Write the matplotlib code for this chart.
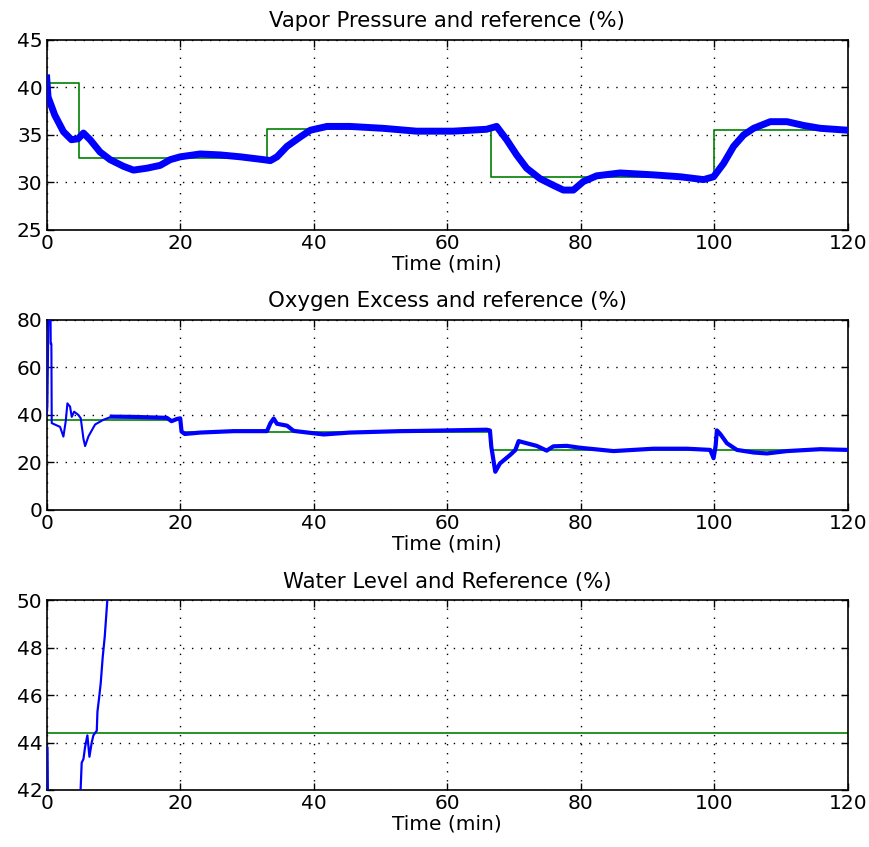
import matplotlib
matplotlib.use("Agg")
import matplotlib.pyplot as plt
import numpy as np

plt.rcParams['font.family'] = ['DejaVu Sans']

# ---------------- data ----------------
# Panel 1: vapor pressure
vp_t = [0, 0.2, 1.2, 2.5, 3.7, 4.7, 5.5, 6.5, 8, 9.5, 11.5, 13, 15, 17, 18.5, 20, 23, 26, 29,
        32.5, 33.5, 34.5, 36, 38, 39.5, 42, 45.4, 50.4, 55.4, 60.9, 65.9, 67.4, 68.9, 70.4,
        71.9, 73.9, 75.9, 77.4, 78.9, 80.4, 82.4, 85.9, 90.9, 94.9, 98.4, 99.9, 101.4, 102.9,
        104.4, 105.9, 108.4, 110.9, 113.4, 115.9, 120]
vp_y = [41.0, 39.0, 37.1, 35.35, 34.5, 34.6, 35.2, 34.5, 33.2, 32.4, 31.7, 31.3, 31.5, 31.8,
        32.4, 32.7, 33.0, 32.9, 32.7, 32.4, 32.3, 32.7, 33.8, 34.8, 35.5, 35.9, 35.9, 35.7,
        35.4, 35.4, 35.6, 35.9, 34.5, 32.9, 31.5, 30.4, 29.7, 29.2, 29.2, 30.1, 30.7, 31.0,
        30.8, 30.6, 30.3, 30.6, 32.0, 33.8, 35.0, 35.7, 36.4, 36.4, 36.0, 35.7, 35.5]
vp_ref_t = [0, 4.8, 33.0, 66.5, 100.0, 120]
vp_ref_y = [40.5, 32.6, 35.6, 30.6, 35.5, 35.5]

# Panel 2: oxygen excess
ox_t = [0, 0.1, 0.2, 0.35, 0.55, 0.6, 0.7, 0.75, 1.2, 2.0, 2.5, 2.85, 3.1, 3.5, 3.75, 4.1,
        4.75, 5.1, 5.5, 5.75, 6.25, 7.25, 8.5, 9.75, 13, 18, 18.7, 19.5, 20, 20.2, 20.7, 23,
        28, 33, 33.5, 34, 34.5, 36, 37, 40, 41.5, 45.4, 53, 55.9, 65.9, 66.4, 66.6, 67.2,
        67.9, 69.4, 70.2, 70.7, 71.9, 73.4, 74.9, 75.9, 77.9, 79.9, 84.9, 90.9, 95.9, 99.4,
        99.9, 100.2, 100.4, 100.9, 101.9, 103.4, 105.9, 107.9, 110.9, 115.9, 120]
ox_y = [40, 43.5, 67.4, 95, 95, 70, 70, 36.6, 36, 35, 30.9, 37.4, 44.9, 43.5, 39.2, 41.4,
        40, 38.6, 30, 26.9, 31, 36, 38, 39.3, 39.2, 38.8, 37.4, 38.3, 38.6, 33, 32, 32.6,
        33.2, 33.2, 36.5, 38.5, 36.3, 35.5, 33.3, 32.3, 31.8, 32.6, 33.2, 33.3, 33.8, 33.5,
        26.7, 16.1, 19.6, 23.1, 25.2, 29.0, 28.1, 27, 25.0, 26.8, 27.0, 26.2, 24.8, 25.8,
        25.8, 25.3, 21.8, 26.7, 33.5, 32.0, 28.1, 25.3, 24.2, 23.8, 24.8, 25.6, 25.3]
ox_ref_t = [0, 20.1, 66.6, 120]
ox_ref_y = [37.9, 32.7, 25.4, 25.4]

# Panel 3: water level
wl_t = [0, 0.12, 0.2, 4.9, 5.09, 5.24, 5.5, 5.74, 6.09, 6.4, 6.74, 6.99, 7.5, 7.6, 7.84,
        8.09, 8.39, 8.69, 8.88, 9.08, 9.5]
wl_y = [43.8, 43.8, 41.0, 41.0, 42.1, 43.15, 43.3, 43.8, 44.3, 43.4, 44.0, 44.3, 44.5,
        45.3, 45.86, 46.5, 47.6, 48.45, 49.2, 50.0, 51.5]
wl_ref_t = [0, 120]
wl_ref_y = [44.4, 44.4]

xticks = [0, 20, 40, 60, 80, 100, 120]
titles = ['Vapor Pressure and reference (%)',
          'Oxygen Excess and reference (%)',
          'Water Level and Reference (%)']
ylims = [(25, 45), (0, 80), (42, 50)]
yticks = [[25, 30, 35, 40, 45], [0, 20, 40, 60, 80], [42, 44, 46, 48, 50]]

BLUE = '#0000FF'
GREEN = '#008000'

fig = plt.figure(figsize=(8.7, 8.47), dpi=100)
left, width, height = 0.0537, 0.9207, 0.2243
bottoms = [0.7285, 0.3979, 0.0673]
axes = [fig.add_axes([left, b, width, height]) for b in bottoms]

# panel 1
ax = axes[0]
ax.step(vp_ref_t, vp_ref_y, where='post', color=GREEN, lw=1.2, zorder=2)
ax.plot(vp_t, vp_y, color=BLUE, lw=5.0, zorder=3, solid_joinstyle='round')

# panel 2
ax = axes[1]
ax.step(ox_ref_t, ox_ref_y, where='post', color=GREEN, lw=1.2, zorder=2)
ox_t_a = np.array(ox_t)
ox_y_a = np.array(ox_y)
ax.plot(ox_t_a, ox_y_a, color=BLUE, lw=1.5, zorder=3)
mask = ox_t_a >= 9.75
ax.plot(ox_t_a[mask], ox_y_a[mask], color=BLUE, lw=3.0, zorder=3)

# panel 3
ax = axes[2]
ax.plot(wl_ref_t, wl_ref_y, color=GREEN, lw=1.2, zorder=2)
ax.plot(wl_t, wl_y, color=BLUE, lw=1.6, zorder=3)

for i, ax in enumerate(axes):
    ax.set_xlim(0, 120)
    ax.set_ylim(*ylims[i])
    ax.set_xticks(xticks)
    ax.set_yticks(yticks[i])
    ax.tick_params(direction='in', length=5, width=1, top=True, right=True,
                   labelsize=14.5, pad=3)
    ax.grid(True, color='black', linestyle=(0, (1, 5.5)), linewidth=1)
    for s in ax.spines.values():
        s.set_linewidth(1.2)
    ax.set_title(titles[i], fontsize=15.3, pad=9)
    ax.set_xlabel('Time (min)', fontsize=14.5, labelpad=1)

fig.savefig('out.png', dpi=100)
